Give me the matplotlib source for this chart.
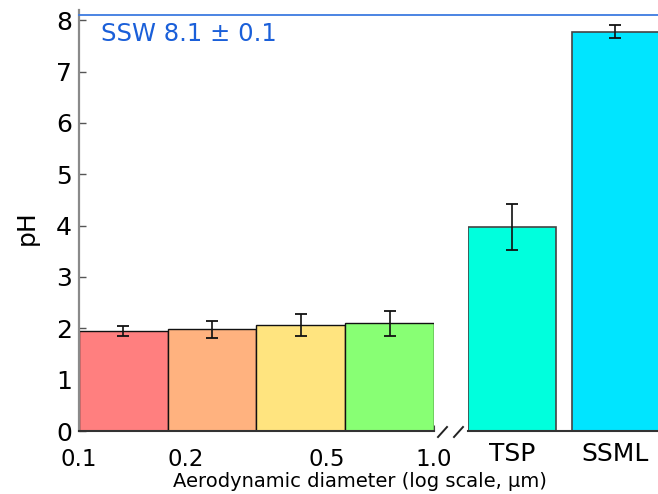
import matplotlib
matplotlib.use("Agg")
import matplotlib.pyplot as plt
from matplotlib.transforms import blended_transform_factory
from matplotlib.lines import Line2D
from matplotlib.ticker import FixedLocator, NullFormatter

# ---- data ----
bin_edges = [0.1, 0.178, 0.316, 0.562, 1.0]
size_ph = [1.95, 1.98, 2.06, 2.10]
size_err = [0.10, 0.17, 0.21, 0.24]
size_colors = ["#ff7f7f", "#ffb27f", "#ffe47f", "#88ff74"]

cat_labels = ["TSP", "SSML"]
cat_ph = [3.98, 7.78]
cat_err = [0.45, 0.12]
cat_colors = ["#00ffdd", "#00e5ff"]

ssw_ph = 8.1
ssw_text = "SSW 8.1 ± 0.1"

x_major = [0.1, 0.2, 0.5, 1.0]
x_major_labels = ["0.1", "0.2", "0.5", "1.0"]
x_minor = [0.3, 0.4, 0.6, 0.7, 0.8, 0.9]
y_ticks = [0, 1, 2, 3, 4, 5, 6, 7, 8]

W, H = 658, 494
fig = plt.figure(figsize=(W / 100, H / 100), dpi=100)

bottom = (H - 431) / H
top = (H - 10) / H
ax = fig.add_axes([79 / W, bottom, (434 - 79) / W, top - bottom])
ax2 = fig.add_axes([468 / W, bottom, (W - 468) / W, top - bottom], sharey=ax)

ylim = (0, 8.2)

# left: log-scale size bins
ax.set_xscale("log")
lefts = bin_edges[:-1]
widths = [b - a for a, b in zip(bin_edges[:-1], bin_edges[1:])]
centers = [(a * b) ** 0.5 for a, b in zip(bin_edges[:-1], bin_edges[1:])]
ax.bar(lefts, size_ph, width=widths, align="edge", color=size_colors,
       edgecolor="#111111", linewidth=1.0, zorder=2)
ax.errorbar(centers, size_ph, yerr=size_err, fmt="none", ecolor="#111111",
            elinewidth=1.2, capsize=4.5, capthick=1.3, zorder=3)
ax.set_xlim(0.1, 1.0)
ax.set_ylim(*ylim)
ax.xaxis.set_major_locator(FixedLocator(x_major))
ax.set_xticklabels(x_major_labels)
ax.xaxis.set_minor_locator(FixedLocator(x_minor))
ax.xaxis.set_minor_formatter(NullFormatter())
ax.set_yticks(y_ticks)
ax.tick_params(axis="x", which="both", direction="in", length=4, width=0.8,
               color="#444444", labelsize=16.5, pad=12)
ax.tick_params(axis="y", direction="in", length=5, width=1.0, color="#555555",
               labelsize=18, pad=5)
for s in ["top", "right"]:
    ax.spines[s].set_visible(False)
ax.spines["left"].set_color("#8a8a8a")
ax.spines["left"].set_linewidth(1.6)
ax.spines["bottom"].set_color("#333333")
ax.spines["bottom"].set_linewidth(1.5)
ax.patch.set_alpha(0)

# right: categorical samples
pos = list(range(len(cat_labels)))
ax2.bar(pos, cat_ph, width=0.85, color=cat_colors, edgecolor="#444444",
        linewidth=1.2, zorder=2)
ax2.errorbar(pos, cat_ph, yerr=cat_err, fmt="none", ecolor="#111111",
             elinewidth=1.2, capsize=4.5, capthick=1.3, zorder=3)
ax2.set_xlim(-0.425, -0.425 + (W - 468) / 103.5)
ax2.set_xticks(pos)
ax2.set_xticklabels(cat_labels)
ax2.tick_params(axis="x", length=0, labelsize=18, pad=8)
ax2.tick_params(axis="y", left=False, labelleft=False)
for s in ["top", "right", "left"]:
    ax2.spines[s].set_visible(False)
ax2.spines["bottom"].set_color("#333333")
ax2.spines["bottom"].set_linewidth(1.5)
ax2.patch.set_alpha(0)

# SSW reference line across the whole plot
tr = blended_transform_factory(fig.transFigure, ax.transData)
fig.add_artist(Line2D([79 / W, 1.0], [ssw_ph, ssw_ph], transform=tr,
                      color="#3d7be0", linewidth=1.3, zorder=5))
tr_ax = blended_transform_factory(ax.transAxes, ax.transData)
ax.text(0.062, 7.74, ssw_text, transform=tr_ax, color="#1a5fd9",
        fontsize=17.5, ha="left", va="center")

# axis break marks
for x0 in [438, 454]:
    fig.add_artist(Line2D([x0 / W, (x0 + 9) / W],
                          [(H - 437) / H, (H - 427) / H],
                          color="#222222", linewidth=1.4))

fig.text(360 / W, 1 - 481 / H, "Aerodynamic diameter (log scale, μm)",
         ha="center", va="center", fontsize=14)
fig.text(27 / W, 1 - 228 / H, "pH", ha="center", va="center", rotation=90,
         fontsize=18)

fig.savefig("out.png", dpi=100)
